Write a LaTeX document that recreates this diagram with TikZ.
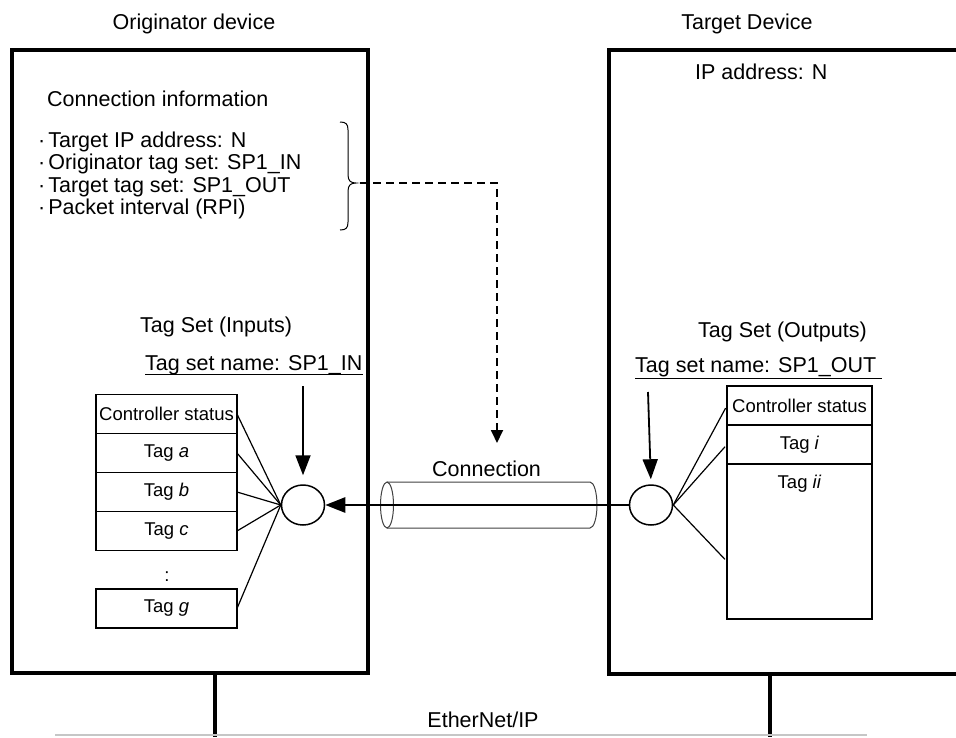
\documentclass[tikz,border=0pt]{standalone}
\usepackage{fontspec}
\setmainfont{Liberation Sans}
\usetikzlibrary{arrows.meta,positioning,calc,shapes.geometric}

\begin{document}
\begin{tikzpicture}[x=1pt,y=-1pt,>={Triangle[length=20pt,width=15pt]},
  txt/.style={inner sep=0pt,font=\fontsize{21.5}{25}\selectfont},
  devbox/.style={draw,line width=3.2pt,inner sep=0pt,outer sep=0pt},
  cell/.style={draw,line width=1.4pt,inner sep=0pt,outer sep=0pt,minimum width=141pt,minimum height=39pt,font=\fontsize{18.5}{20}\selectfont},
  merge/.style={draw,ellipse,line width=1.5pt,minimum width=43pt,minimum height=40pt,inner sep=0pt},
  fan/.style={line width=1.2pt},
  pipe/.style={draw=black!75,line width=1pt},
  bus/.style={line width=4pt}]
\useasboundingbox (0,0) rectangle (956,737);
\clip (0,0) rectangle (956,737);

% devices
\node[devbox,minimum width=356pt,minimum height=623pt] (orig) at (190,361.5) {};
\node[devbox,minimum width=391pt,minimum height=624pt] (targ) at (804.5,362) {};
\node[txt,anchor=base] (origTitle) at (194,29) {Originator device};
\node[txt,anchor=base] (targTitle) at (747,29) {Target Device};
\node[txt,anchor=base west] (ipAddr) at (695,79) {IP address: N};

% connection information
\node[txt,anchor=base west] (connInfo) at (47,106) {Connection information};
\foreach \txt [count=\i] in {Target IP address: N,Originator tag set: SP1\_IN,Target tag set: SP1\_OUT,Packet interval (RPI)}
  \node[txt,anchor=base west] (info\i) at (38,{147+22.5*(\i-1)}) {·\kern3pt\txt};
\draw[line width=1pt] (340,122) .. controls (346,122) and (348,124) .. (348,130) -- (348,175)
  .. controls (348,181) and (351,183) .. (356,183) .. controls (351,183) and (348,185) .. (348,191)
  -- (348,222) .. controls (348,228) and (346,230) .. (340,230);
\coordinate (braceTip) at (360,183);
\coordinate (dashEnd) at (497,443);
\draw[line width=1.8pt,dash pattern=on 8pt off 5pt,-{Triangle[length=13pt,width=12pt]}] (braceTip) -| (dashEnd);

% input tag set
\node[txt,anchor=base west] (inHead) at (140,332) {Tag Set (Inputs)};
\node[txt,anchor=base west] (inName) at (145,370) {Tag set name: SP1\_IN};
\draw[line width=1.2pt] (inName.south west) -- (inName.south east);
\node[cell] (ctrlIn) at (166.5,414) {Controller status};
\node[cell,below=0pt of ctrlIn] (tagA) {Tag \textit{a}};
\node[cell,below=0pt of tagA] (tagB) {Tag \textit{b}};
\node[cell,below=0pt of tagB] (tagC) {Tag \textit{c}};
\node[cell,draw=none] (dotsIn) at (167,577) {:};
\node[cell] (tagG) at (166.5,608.5) {Tag \textit{g}};
\node[merge] (inMerge) at (303,505) {};
\coordinate (inArrow) at (303,386);
\draw[line width=1.8pt,->,shorten >=9pt] (inArrow) -- (inMerge.north);
\foreach \c in {ctrlIn,tagA,tagB,tagC,tagG}
  \draw[fan] (\c.east) -- (inMerge.west);

% output tag set
\node[txt,anchor=base west] (outHead) at (698,337) {Tag Set (Outputs)};
\node[txt,anchor=base west] (outName) at (635,372) {Tag set name: SP1\_OUT};
\draw[line width=1.2pt] ($(outName.south west)+(0,2)$) -- ($(outName.south east)+(6,2)$);
\node[cell,minimum width=145pt] (ctrlOut) at (799.5,405.5) {Controller status};
\node[cell,minimum width=145pt,below=0pt of ctrlOut] (tagI) {Tag \textit{i}};
\node[cell,minimum width=145pt,minimum height=155pt,below=0pt of tagI] (restOut) {};
\node[cell,draw=none,minimum height=0pt] (tagII) at ($(restOut.north)+(0,20)$) {Tag \textit{ii}};
\node[merge] (outMerge) at (651,505) {};
\coordinate (outArrow) at (648,392);
\draw[line width=1.8pt,->,shorten >=5pt] (outArrow) -- (outMerge.north);
\draw[fan,shorten <=3pt] (ctrlOut.west) -- (outMerge.east);
\draw[fan,shorten <=3pt] (tagI.west) -- (outMerge.east);
\draw[fan,shorten <=3pt] ($(restOut.west)+(0,20)$) -- (outMerge.east);

% connection
\node[txt,anchor=base west] (connLbl) at (432,476) {Connection};
\draw[pipe] (387,505) ellipse [x radius=6.5pt,y radius=23pt];
\draw[pipe] (387,482) -- (590,482) arc[start angle=90,end angle=-90,x radius=7pt,y radius=23pt] -- (387,528);
\draw[line width=2.6pt,->] (outMerge.west) -- (inMerge.east);

% network
\node[txt,anchor=base] (net) at (483,727) {EtherNet/IP};
\coordinate (busL) at (215,737);
\coordinate (busR) at (770,737);
\draw[bus] (orig.south -| busL) -- (busL);
\draw[bus] (targ.south -| busR) -- (busR);
\draw[gray!45,line width=1.5pt] (55,735) -- (867,735);
\end{tikzpicture}
\end{document}
